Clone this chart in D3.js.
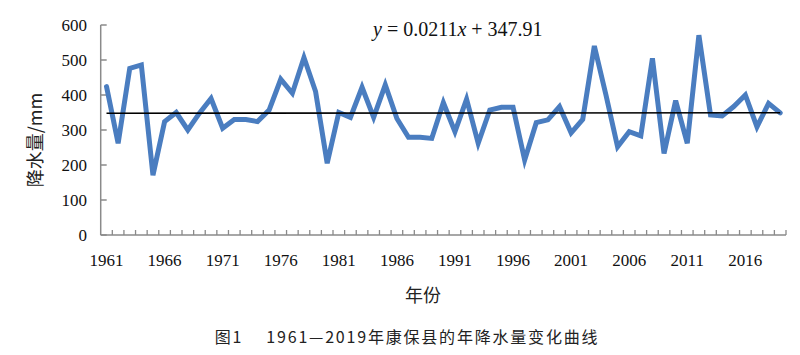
<!DOCTYPE html>
<html>
<head>
<meta charset="utf-8">
<script src="https://cdn.jsdelivr.net/npm/d3@7/dist/d3.min.js"></script>
<style>
  html, body { margin: 0; padding: 0; background: #fff; }
  svg { display: block; }
</style>
</head>
<body>
<svg id="chart" width="800" height="355"></svg>
<script>
// ---- data ----
const years = d3.range(1961, 2020);
const precipitation = [
  424, 262, 476, 486, 171, 324, 350, 300, 348, 390,
  305, 330, 330, 324, 357, 445, 405, 507, 410, 205,
  350, 336, 422, 336, 429, 333, 279, 279, 276, 378,
  295, 388, 262, 357, 365, 365, 214, 321, 329, 367,
  292, 330, 540, 400, 252, 295, 283, 505, 233, 384,
  262, 571, 343, 340, 367, 400, 309, 376, 349
];
const yTicks = [0, 100, 200, 300, 400, 500, 600];
const xLabelYears = [1961, 1966, 1971, 1976, 1981, 1986, 1991, 1996, 2001, 2006, 2011, 2016];
const trendSlope = 0.0211, trendIntercept = 347.91;
const equationText = ["y", " = 0.0211", "x", " + 347.91"];
const xTitle = "年份";
const yTitle = "降水量/mm";
const caption = "图1\u3000 1961—2019年康保县的年降水量变化曲线";

// ---- layout ----
const svg = d3.select("#chart");
const mLeft = 100.7, mRight = 786, mTop = 25, mBottom = 235;
const axisColor = "#8a8a8a";
const serif = "'Liberation Serif', 'DejaVu Serif', serif";
const cjk = "'Noto Sans CJK SC', sans-serif";

const x = d3.scaleBand().domain(years).range([mLeft, mRight]).paddingInner(0).paddingOuter(0);
const y = d3.scaleLinear().domain([0, 600]).range([mBottom, mTop]);
const cx = d => x(d) + x.bandwidth() / 2;

// y axis
svg.append("line").attr("x1", mLeft).attr("x2", mLeft).attr("y1", y(600)).attr("y2", y(0))
  .attr("stroke", axisColor).attr("stroke-width", 1.5);
svg.selectAll(".ytick").data(yTicks).enter().append("line")
  .attr("x1", mLeft).attr("x2", mLeft + 6).attr("y1", d => y(d)).attr("y2", d => y(d))
  .attr("stroke", axisColor).attr("stroke-width", 1.5);
svg.selectAll(".ylab").data(yTicks).enter().append("text")
  .attr("x", 87).attr("y", d => y(d)).attr("dy", "0.35em")
  .attr("text-anchor", "end").attr("font-family", serif).attr("font-size", 17)
  .attr("fill", "#111").text(d => d);

// x axis
svg.append("line").attr("x1", mLeft).attr("x2", mRight).attr("y1", y(0)).attr("y2", y(0))
  .attr("stroke", axisColor).attr("stroke-width", 1.5);
svg.selectAll(".xtick").data(years).enter().append("line")
  .attr("x1", d => x(d) + x.bandwidth()).attr("x2", d => x(d) + x.bandwidth())
  .attr("y1", y(0)).attr("y2", y(0) - 5)
  .attr("stroke", axisColor).attr("stroke-width", 1.3);
svg.selectAll(".xlab").data(xLabelYears).enter().append("text")
  .attr("x", d => cx(d)).attr("y", 266)
  .attr("text-anchor", "middle").attr("font-family", serif).attr("font-size", 17)
  .attr("fill", "#111").text(d => d);

// data line
const pts = years.map((yr, i) => [yr, precipitation[i]]);
svg.append("path").datum(pts)
  .attr("fill", "none").attr("stroke", "#4a7dc0").attr("stroke-width", 5)
  .attr("stroke-linejoin", "miter").attr("stroke-linecap", "round")
  .attr("d", d3.line().x(d => cx(d[0])).y(d => y(d[1])));

// trend line
const t0 = 1, t1 = years.length;
svg.append("line")
  .attr("x1", cx(years[0])).attr("x2", cx(years[years.length - 1]))
  .attr("y1", y(trendSlope * t0 + trendIntercept)).attr("y2", y(trendSlope * t1 + trendIntercept))
  .attr("stroke", "#000").attr("stroke-width", 1.6);

// equation
const eq = svg.append("text").attr("x", 373).attr("y", 36)
  .attr("font-family", serif).attr("font-size", 20).attr("fill", "#111");
equationText.forEach((s, i) => {
  eq.append("tspan").attr("font-style", (i === 0 || i === 2) ? "italic" : "normal").text(s);
});

// axis titles
svg.append("text").attr("transform", "translate(42,140) rotate(-90)")
  .attr("text-anchor", "middle").attr("font-family", cjk).attr("font-size", 18)
  .attr("fill", "#222").text(yTitle);
svg.append("text").attr("x", 423).attr("y", 302)
  .attr("text-anchor", "middle").attr("font-family", cjk).attr("font-size", 18)
  .attr("fill", "#222").text(xTitle);

// caption
svg.append("text").attr("x", 407).attr("y", 343)
  .attr("text-anchor", "middle").attr("font-family", cjk).attr("font-size", 16)
  .attr("letter-spacing", 1.8).attr("fill", "#222").text(caption);
</script>
</body>
</html>
